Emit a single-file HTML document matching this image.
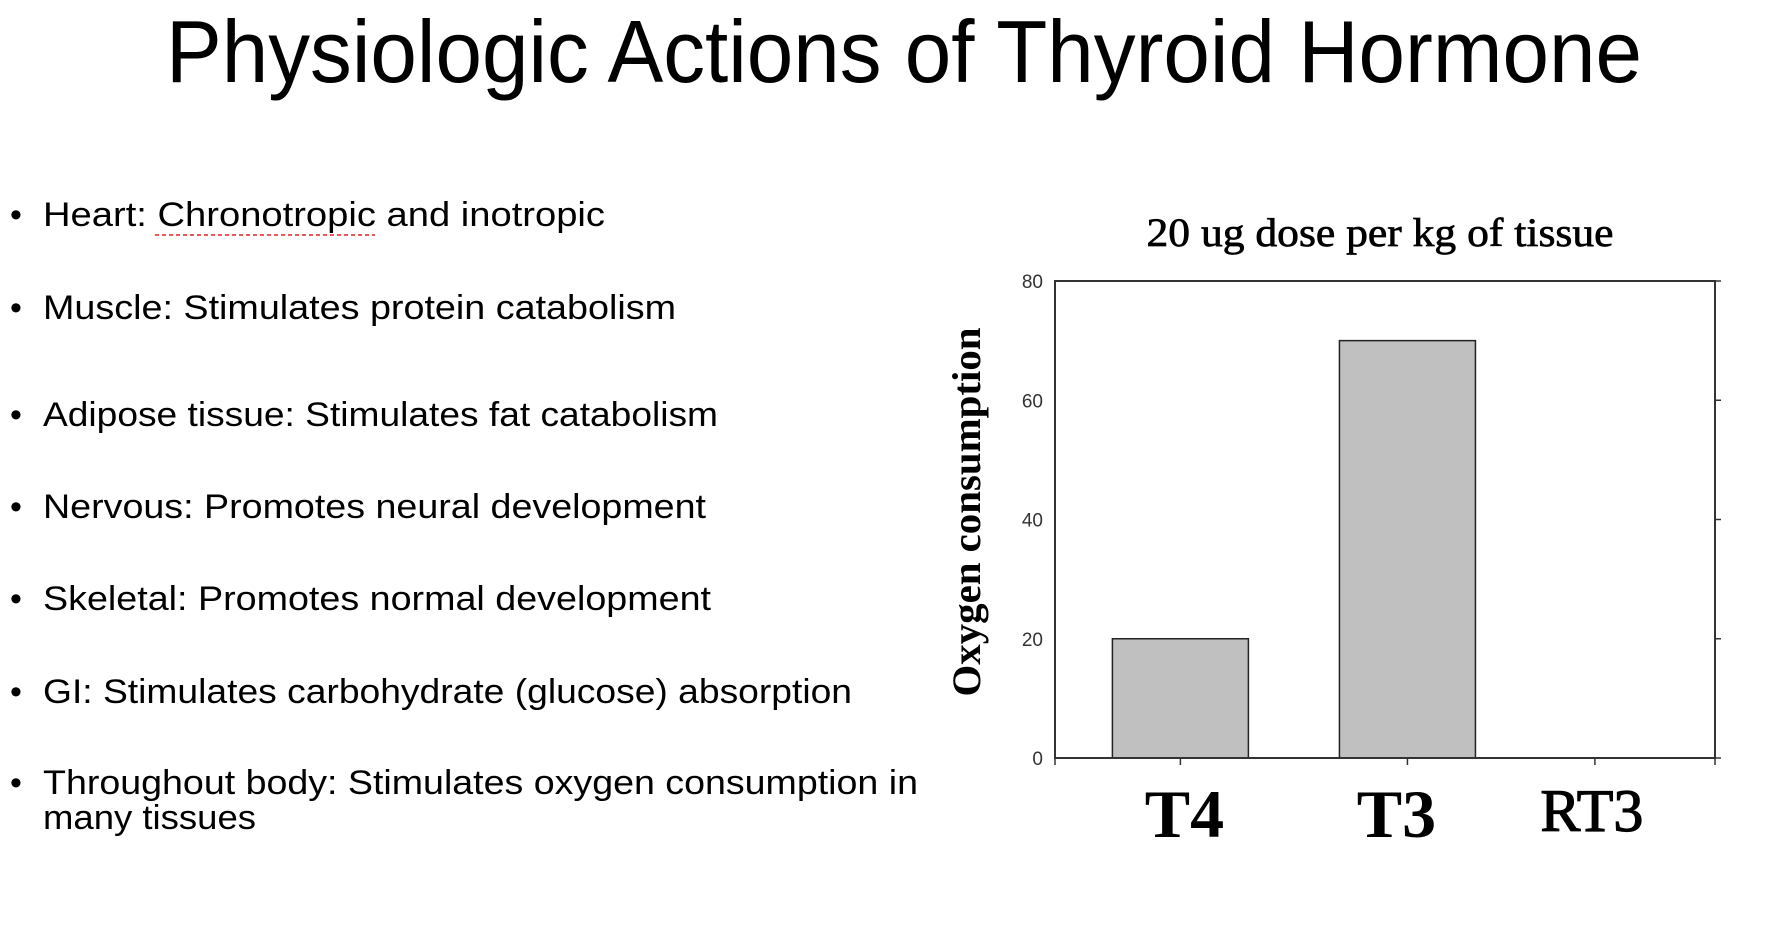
<!DOCTYPE html>
<html><head><meta charset="utf-8"><style>
html,body{margin:0;padding:0;background:#fff;}
svg{display:block;}
</style></head><body>
<svg id="slide" width="1766" height="937" viewBox="0 0 1766 937" xmlns="http://www.w3.org/2000/svg">
<text x="904" y="82" text-anchor="middle" font-family="Liberation Sans, sans-serif" font-size="88" textLength="1476" lengthAdjust="spacingAndGlyphs">Physiologic Actions of Thyroid Hormone</text>
<g font-family="Liberation Sans, sans-serif" font-size="34" fill="#000">
<text x="10" y="226">•</text>
<text x="43" y="226" textLength="562" lengthAdjust="spacingAndGlyphs">Heart: Chronotropic and inotropic</text>
<line x1="155" y1="235" x2="375" y2="235" stroke="#e02020" stroke-width="1.5" stroke-dasharray="4,3"/>
<text x="10" y="319">•</text>
<text x="43" y="319" textLength="633" lengthAdjust="spacingAndGlyphs">Muscle: Stimulates protein catabolism</text>
<text x="10" y="426">•</text>
<text x="43" y="426" textLength="675" lengthAdjust="spacingAndGlyphs">Adipose tissue: Stimulates fat catabolism</text>
<text x="10" y="518">•</text>
<text x="43" y="518" textLength="663" lengthAdjust="spacingAndGlyphs">Nervous: Promotes neural development</text>
<text x="10" y="610">•</text>
<text x="43" y="610" textLength="668" lengthAdjust="spacingAndGlyphs">Skeletal: Promotes normal development</text>
<text x="10" y="703">•</text>
<text x="43" y="703" textLength="809" lengthAdjust="spacingAndGlyphs">GI: Stimulates carbohydrate (glucose) absorption</text>
<text x="10" y="794">•</text>
<text x="43" y="794" textLength="875" lengthAdjust="spacingAndGlyphs">Throughout body: Stimulates oxygen consumption in</text>
<text x="43" y="829" textLength="213" lengthAdjust="spacingAndGlyphs">many tissues</text>
</g>
<g id="chart">
<text x="1380" y="246" text-anchor="middle" font-family="Liberation Serif, serif" font-size="40" stroke="#000" stroke-width="0.7" textLength="467" lengthAdjust="spacingAndGlyphs">20 ug dose per kg of tissue</text>
<text transform="translate(980,512) rotate(-90)" text-anchor="middle" font-family="Liberation Serif, serif" font-weight="bold" font-size="40" textLength="369" lengthAdjust="spacingAndGlyphs">Oxygen consumption</text>
</g>
</svg>
<script>
const categories = ["T4", "T3", "RT3"];
const values = [20, 70, 0];
const yTicks = [0, 20, 40, 60, 80];
const boldLabel = [true, true, false];

const svgNS = "http://www.w3.org/2000/svg";
const chart = document.getElementById('chart');
const L = 1055, R = 1715, T = 281, B = 758;
const yMax = 80;
function y(v){ return B - (v / yMax) * (B - T); }
const centerFrac = [0.190, 0.534, 0.818];
function x(i){ return L + centerFrac[i] * (R - L); }
const labelShift = [4, -11, -3];
const barW = 136;
function mk(tag, attrs){ const e = document.createElementNS(svgNS, tag); for (const k in attrs) e.setAttribute(k, attrs[k]); chart.appendChild(e); return e; }

values.forEach((v, i) => {
  if (v <= 0) return;
  const r = mk('rect', {x: x(i) - barW/2, y: y(v), width: barW, height: B - y(v), fill: '#c0c0c0', stroke: '#222', 'stroke-width': 1.5});
  
  
});

const frame = mk('path', {d: `M${L},${T} H${R} V${B} H${L} Z`, fill: 'none', stroke: '#333', 'stroke-width': 2});



yTicks.forEach(t => {
  const lbl = mk('text', {x: 1043, y: y(t) + 7, 'text-anchor': 'end', 'font-family': 'Liberation Sans, sans-serif', 'font-size': 19, fill: '#333'});
  lbl.textContent = t;
  
  
  const tk = mk('line', {x1: R, x2: R + 6, y1: y(t), y2: y(t), stroke: '#333', 'stroke-width': 1.5});
  
  
});

categories.forEach((c, i) => {
  const tk = mk('line', {x1: x(i), x2: x(i), y1: B, y2: B + 7, stroke: '#333', 'stroke-width': 1.5});
  
  
  const lbl = mk('text', {x: x(i) + labelShift[i], y: boldLabel[i] ? 837 : 831, 'text-anchor': 'middle', 'font-family': 'Liberation Serif, serif', 'font-size': boldLabel[i] ? 68 : 60, 'font-weight': boldLabel[i] ? 'bold' : 'normal', stroke: '#000', 'stroke-width': boldLabel[i] ? 0 : 1.2});
  lbl.textContent = c;
  
  
});
[L, R].forEach(px => {
  const tk = mk('line', {x1: px, x2: px, y1: B, y2: B + 7, stroke: '#333', 'stroke-width': 1.5});
  
  
});
</script>
</body></html>
